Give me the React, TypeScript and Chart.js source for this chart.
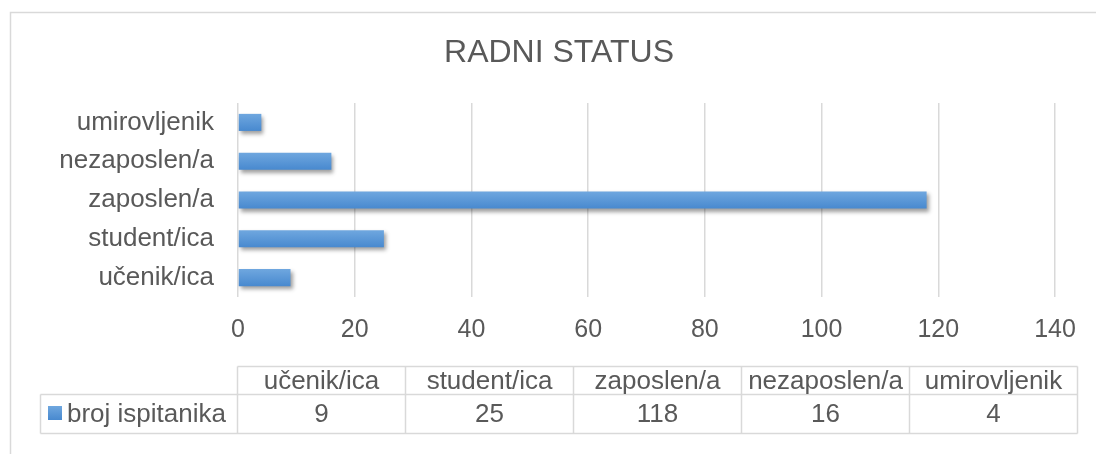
import React, { useEffect, useRef } from 'react';
import { Chart, registerables } from 'chart.js';

Chart.register(...registerables);

const titleText = 'RADNI STATUS';
const categories = ['učenik/ica', 'student/ica', 'zaposlen/a', 'nezaposlen/a', 'umirovljenik'];
const seriesName = 'broj ispitanika';
const values = [9, 25, 118, 16, 4];
const xMin = 0;
const xMax = 140;
const xStep = 20;

const FONT = '"Liberation Sans", Arial, Helvetica, sans-serif';
const TEXT = '#595959';
const LINE = '#d9d9d9';

function barGradient(ctx: CanvasRenderingContext2D, top: number, bottom: number) {
  const g = ctx.createLinearGradient(0, top, 0, bottom);
  g.addColorStop(0, '#6fa7df');
  g.addColorStop(1, '#4889cf');
  return g;
}

const framePlugin = {
  id: 'frame',
  beforeDraw(chart: any) {
    const ctx = chart.ctx;
    ctx.save();
    ctx.fillStyle = '#ffffff';
    ctx.fillRect(0, 0, chart.width, chart.height);
    ctx.strokeStyle = LINE;
    ctx.lineWidth = 1.5;
    ctx.strokeRect(10.5, 12.5, 1100, 470);
    ctx.restore();
  },
};

const barStylePlugin = {
  id: 'barStyle',
  beforeDatasetsDraw(chart: any) {
    const ctx = chart.ctx;
    const meta = chart.getDatasetMeta(0);
    meta.data.forEach((el: any) => {
      const { y, height } = el.getProps(['y', 'height'], true);
      el.options = { ...el.options, backgroundColor: barGradient(ctx, y - height / 2, y + height / 2) };
    });
    ctx.save();
    ctx.shadowColor = 'rgba(0,0,0,0.38)';
    ctx.shadowBlur = 4;
    ctx.shadowOffsetX = 2;
    ctx.shadowOffsetY = 3;
  },
  afterDatasetsDraw(chart: any) {
    chart.ctx.restore();
  },
};

const dataTablePlugin = {
  id: 'dataTable',
  afterDraw(chart: any) {
    const ctx = chart.ctx;
    const labels: string[] = chart.data.labels;
    const ds = chart.data.datasets[0];
    const vals: number[] = ds.data;
    const colLeft = 237.5;
    const colW = 168;
    const headLeft = 40.5;
    const y0 = 366.5;
    const y1 = 394.5;
    const y2 = 433.5;
    const right = colLeft + colW * labels.length;
    ctx.save();
    ctx.strokeStyle = LINE;
    ctx.lineWidth = 1.5;
    ctx.beginPath();
    ctx.moveTo(colLeft, y0);
    ctx.lineTo(right, y0);
    ctx.moveTo(headLeft, y1);
    ctx.lineTo(right, y1);
    ctx.moveTo(headLeft, y2);
    ctx.lineTo(right, y2);
    ctx.moveTo(headLeft, y1);
    ctx.lineTo(headLeft, y2);
    for (let i = 0; i <= labels.length; i++) {
      const x = colLeft + i * colW;
      ctx.moveTo(x, y0);
      ctx.lineTo(x, y2);
    }
    ctx.stroke();

    ctx.fillStyle = TEXT;
    ctx.font = `26px ${FONT}`;
    ctx.textAlign = 'center';
    ctx.textBaseline = 'middle';
    labels.forEach((lab, i) => {
      const cx = colLeft + i * colW + colW / 2;
      ctx.fillText(lab, cx, (y0 + y1) / 2 + 1);
      ctx.fillText(String(vals[i]), cx, (y1 + y2) / 2 + 1);
    });
    ctx.fillStyle = barGradient(ctx, 406, 420);
    ctx.fillRect(48, 406, 14, 14);
    ctx.fillStyle = TEXT;
    ctx.textAlign = 'left';
    ctx.fillText(ds.label, 67, (y1 + y2) / 2 + 1);
    ctx.restore();
  },
};

export default function App() {
  const ref = useRef<HTMLCanvasElement | null>(null);

  useEffect(() => {
    document.body.style.margin = '0';
    const canvas = ref.current;
    if (!canvas) return;
    const chart = new Chart(canvas, {
      type: 'bar',
      data: {
        labels: categories,
        datasets: [
          {
            label: seriesName,
            data: values,
            backgroundColor: '#5b9bd5',
            borderWidth: 0,
            categoryPercentage: 1,
            barPercentage: 0.44,
            xAxisID: 'x',
            yAxisID: 'y',
          },
        ],
      },
      options: {
        indexAxis: 'y',
        responsive: false,
        animation: false,
        devicePixelRatio: 1,
        layout: { padding: { left: 22, right: 0, top: 14, bottom: 97 } },
        plugins: {
          legend: { display: false },
          tooltip: { enabled: false },
          title: {
            display: true,
            text: titleText,
            color: TEXT,
            font: { family: FONT, size: 32, weight: 'normal', lineHeight: 1.2 },
            padding: { top: 20, bottom: 30.6 },
          },
        },
        scales: {
          x: {
            min: xMin,
            max: xMax,
            ticks: {
              stepSize: xStep,
              color: TEXT,
              padding: 18,
              font: { family: FONT, size: 25 },
            },
            grid: { color: LINE, lineWidth: 1.5, drawTicks: false },
            border: { display: false },
            afterFit: (s: any) => {
              s.height = 60;
            },
          },
          y: {
            reverse: true,
            ticks: {
              color: TEXT,
              padding: 24,
              font: { family: FONT, size: 26 },
            },
            grid: { display: false, drawTicks: false },
            border: { display: false },
            afterFit: (s: any) => {
              s.width = 238 - 22;
            },
          },
          yRight: {
            type: 'linear',
            position: 'right',
            display: true,
            ticks: { display: false },
            grid: { display: false, drawTicks: false },
            border: { display: false },
            afterFit: (s: any) => {
              s.width = 41;
            },
          },
        },
      },
      plugins: [framePlugin, barStylePlugin, dataTablePlugin],
    } as any);
    return () => chart.destroy();
  }, []);

  return <canvas ref={ref} width={1096} height={454} style={{ display: 'block' }} />;
}
